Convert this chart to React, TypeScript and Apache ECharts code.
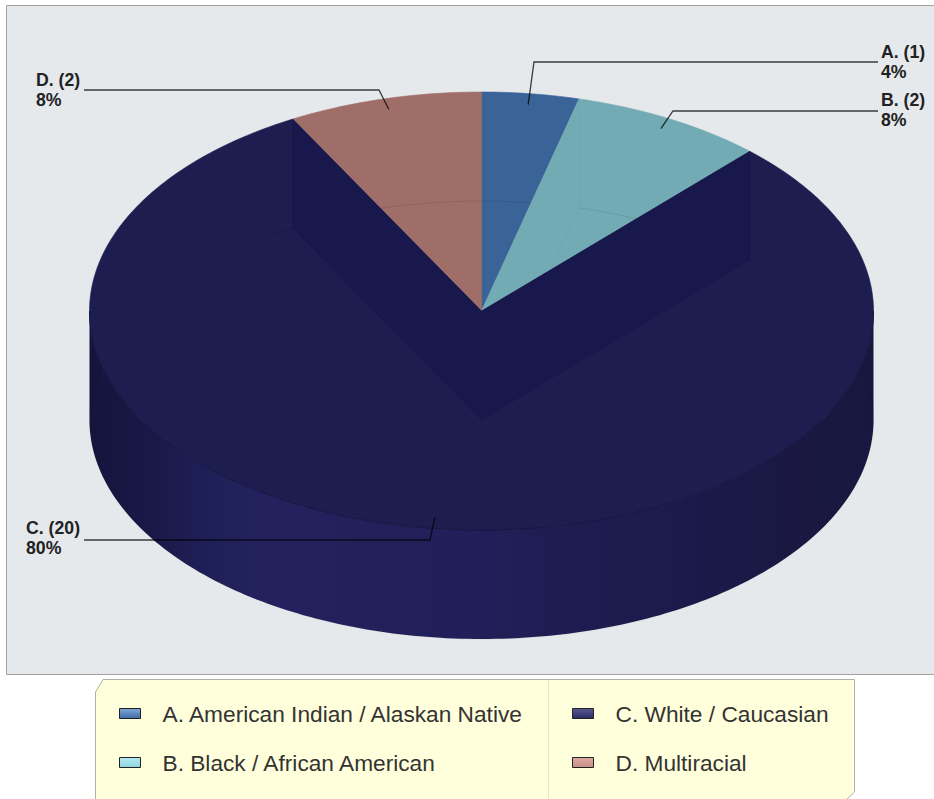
import React, { useEffect, useRef } from "react";
import * as echarts from "echarts";

const names = [
  "A. American Indian / Alaskan Native",
  "B. Black / African American",
  "C. White / Caucasian",
  "D. Multiracial",
];
const letters = ["A", "B", "C", "D"];
const counts = [1, 2, 20, 2];
const percents = ["4%", "8%", "80%", "8%"];

const topColors = ["#3a6397", "#73abb4", "#1d1d50", "#9f6e68"];
const legendColors = [
  ["#7fa8d8", "#3f6aa8"],
  ["#b4eaf2", "#8fd4e0"],
  ["#5a5a92", "#2a2a66"],
  ["#e0aaa4", "#c58f88"],
];
const seriesOrder = [0, 1, 3, 2];

const CX = 481.5, CY = 311, RX = 392, RY = 219, DEPTH = 109;
const elbows = [[534, 62], [673, 111], [430, 540], [379, 90]];
const leaderEnds = [878, 878, 84, 84];
const labelPos = [[881, 42], [881, 90], [26, 518], [36, 70]];
const total = counts.reduce((a, b) => a + b, 0);

const pt = (deg: number, cy: number, f = 1) => {
  const a = (deg * Math.PI) / 180;
  return [CX + RX * f * Math.sin(a), cy - RY * f * Math.cos(a)];
};
const arc = (a: number, b: number, cy: number) => {
  const out: number[][] = [];
  const n = Math.max(2, Math.ceil(Math.abs(b - a)));
  for (let i = 0; i <= n; i++) out.push(pt(a + ((b - a) * i) / n, cy));
  return out;
};
const bounds = (i: number) => {
  const before = counts.slice(0, i).reduce((a, b) => a + b, 0);
  return [(before / total) * 360, ((before + counts[i]) / total) * 360];
};

const wallGradient = new echarts.graphic.LinearGradient(
  89, 0, 873, 0,
  [
    { offset: 0, color: "#14143c" },
    { offset: 0.08, color: "#191948" },
    { offset: 0.15, color: "#1f1f58" },
    { offset: 0.22, color: "#23225f" },
    { offset: 0.33, color: "#22215c" },
    { offset: 0.5, color: "#211f59" },
    { offset: 0.6, color: "#1e1d52" },
    { offset: 0.78, color: "#1a1a4a" },
    { offset: 0.92, color: "#1a1840" },
    { offset: 1, color: "#171740" },
  ],
  true
);

function renderSlice(i: number) {
  return () => {
    const [a, b] = bounds(i);
    const children: any[] = [];
    const from = Math.max(a, 90), to = Math.min(b, 270);
    if (to > from) {
      children.push({
        type: "polygon",
        shape: { points: [...arc(from, to, CY), ...arc(to, from, CY + DEPTH)] },
        style: { fill: wallGradient },
      });
    }
    const top = [[CX, CY], ...arc(a, b, CY)];
    children.push({
      type: "polygon",
      shape: { points: top },
      style: { fill: topColors[i], stroke: topColors[i], lineWidth: 0.6 },
    });
    const wire = [pt(a, CY), pt(a, CY + DEPTH), [CX, CY + DEPTH], pt(b, CY + DEPTH), pt(b, CY)];
    if (counts[i] / total > 0.5) {
      children.push({
        type: "polygon",
        shape: { points: [[CX, CY], ...wire] },
        style: { fill: "#18184d" },
      });
      children.push({
        type: "polyline",
        shape: { points: arc(to, from, CY) },
        style: { stroke: "#15153f", lineWidth: 1, fill: "none" },
      });
    }
    children.push({
      type: "polyline",
      shape: { points: wire },
      style: { stroke: "rgba(0,0,0,0.04)", lineWidth: 1, fill: "none" },
    });
    children.push({
      type: "polyline",
      shape: { points: arc(a, b, CY + DEPTH) },
      style: { stroke: "rgba(0,0,0,0.09)", lineWidth: 1, fill: "none" },
    });
    return { type: "group", children };
  };
}

function renderLabel(i: number) {
  return () => {
    const [a, b] = bounds(i);
    const mid = pt((a + b) / 2, CY, 0.95);
    const elbow = elbows[i];
    return {
      type: "group",
      children: [
        {
          type: "polyline",
          shape: { points: [mid, elbow, [leaderEnds[i], elbow[1]]] },
          style: { stroke: "rgba(0,0,0,0.75)", lineWidth: 1.3, fill: "none" },
        },
        {
          type: "text",
          x: labelPos[i][0],
          y: labelPos[i][1],
          style: {
            text: `${letters[i]}. (${counts[i]})\n${percents[i]}`,
            font: 'bold 17.7px "Liberation Sans"',
            fill: "#222",
            lineHeight: 20,
          },
        },
      ],
    };
  };
}

export default function App() {
  const ref = useRef<HTMLDivElement>(null);
  useEffect(() => {
    document.body.style.margin = "0";
    const chart = echarts.init(ref.current!, undefined, { renderer: "svg" });
    const legendBase = {
      orient: "vertical",
      top: 700,
      itemWidth: 21,
      itemHeight: 10,
      itemGap: 22,
      selectedMode: false,
      textStyle: {
        fontFamily: "Liberation Sans",
        fontSize: 22.7,
        color: "#333",
        lineHeight: 25,
        padding: [0, 0, 2, 17],
      },
      padding: 0,
    };
    const legendData = (idx: number[]) =>
      idx.map((i) => ({
        name: names[i],
        icon: "rect",
        itemStyle: {
          color: new echarts.graphic.LinearGradient(0, 0, 0, 1, [
            { offset: 0, color: legendColors[i][0] },
            { offset: 1, color: legendColors[i][1] },
          ]),
          borderColor: "#222",
          borderWidth: 1,
        },
      }));
    chart.setOption({
      animation: false,
      backgroundColor: "#ffffff",
      legend: [
        { ...legendBase, left: 119, data: legendData([0, 1]) },
        { ...legendBase, left: 572, data: legendData([2, 3]) },
      ],
      graphic: [
        {
          type: "rect",
          z: 0,
          shape: { x: 6.5, y: 5.5, width: 940, height: 669 },
          style: { fill: "#e6e9ec", stroke: "#a3a3a3", lineWidth: 1 },
        },
        {
          type: "polygon",
          z: 0,
          shape: {
            points: [[95.5, 692], [103, 679.5], [854.5, 679.5], [854.5, 792], [846, 800], [95.5, 800]],
          },
          style: { fill: "#ffffdc", stroke: "#b0b0a4", lineWidth: 1 },
        },
        {
          type: "line",
          z: 0,
          shape: { x1: 548.5, y1: 680, x2: 548.5, y2: 799 },
          style: { stroke: "#e4e4c8", lineWidth: 1 },
        },
      ],
      series: [
        ...seriesOrder.map((i) => ({
          type: "custom",
          name: names[i],
          coordinateSystem: "none",
          silent: true,
          z: 2,
          data: [counts[i]],
          renderItem: renderSlice(i),
        })),
        ...seriesOrder.map((i) => ({
          type: "custom",
          coordinateSystem: "none",
          silent: true,
          z: 3,
          data: [counts[i]],
          renderItem: renderLabel(i),
        })),
      ],
    });
    return () => chart.dispose();
  }, []);
  return (
    <div
      ref={ref}
      style={{ position: "absolute", left: 0, top: 0, width: 934, height: 799, overflow: "hidden" }}
    />
  );
}
